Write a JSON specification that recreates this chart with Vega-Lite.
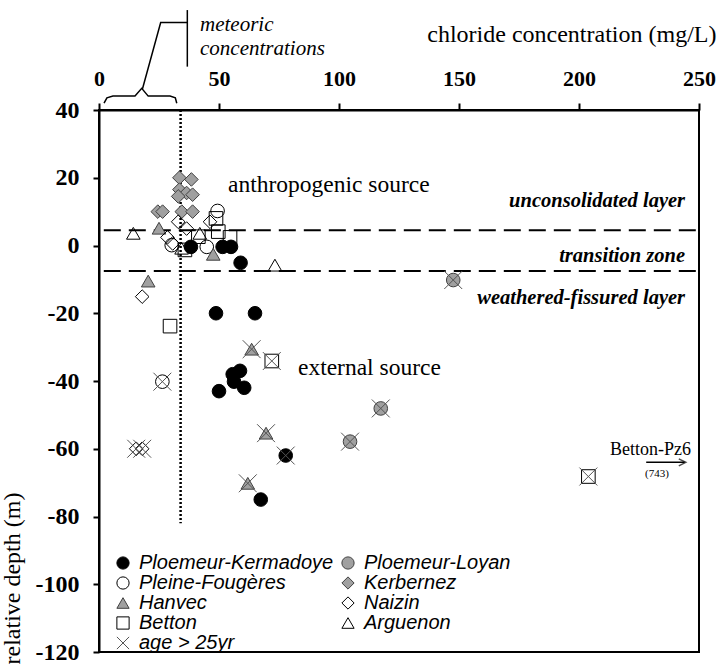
{
  "$schema": "https://vega.github.io/schema/vega-lite/v6.json",
  "width": 600,
  "height": 542,
  "autosize": {"type": "none"},
  "padding": {"left": 99, "top": 110, "right": 21, "bottom": 16},
  "background": "white",
  "config": {
    "view": {"stroke": "black", "strokeWidth": 2},
    "axis": {
      "grid": false, "domainColor": "black", "domainWidth": 2, "tickColor": "black", "tickWidth": 2,
      "labelFont": "Liberation Serif", "labelFontWeight": "bold", "labelColor": "black", "labelFontSize": 21,
      "titleFont": "Liberation Serif", "titleFontWeight": "normal", "titleColor": "black", "titleFontSize": 24,
      "labelOverlap": false, "labelFlush": false
    },
    "legend": {
      "columns": 2, "columnPadding": 4, "rowPadding": -8, "symbolSize": 150, "symbolStrokeWidth": 1,
      "labelFont": "Liberation Sans", "labelFontSize": 20, "labelFontStyle": "italic", "labelColor": "black",
      "labelOffset": 6, "labelLimit": 400
    }
  },
  "datasets": {
    "pts": [
      {"site": "Ploemeur-Kermadoye", "cl": 38.3, "depth": -0.4, "old": null},
      {"site": "Ploemeur-Kermadoye", "cl": 51.5, "depth": -0.4, "old": null},
      {"site": "Ploemeur-Kermadoye", "cl": 55, "depth": -0.4, "old": null},
      {"site": "Ploemeur-Kermadoye", "cl": 59, "depth": -5.1, "old": null},
      {"site": "Ploemeur-Kermadoye", "cl": 48.75, "depth": -20, "old": null},
      {"site": "Ploemeur-Kermadoye", "cl": 65, "depth": -20, "old": null},
      {"site": "Ploemeur-Kermadoye", "cl": 58.75, "depth": -37, "old": null},
      {"site": "Ploemeur-Kermadoye", "cl": 55.7, "depth": -38, "old": null},
      {"site": "Ploemeur-Kermadoye", "cl": 56.25, "depth": -40.2, "old": null},
      {"site": "Ploemeur-Kermadoye", "cl": 60.5, "depth": -42, "old": null},
      {"site": "Ploemeur-Kermadoye", "cl": 50, "depth": -43, "old": null},
      {"site": "Ploemeur-Kermadoye", "cl": 77.8, "depth": -62, "old": "age > 25yr"},
      {"site": "Ploemeur-Kermadoye", "cl": 67.4, "depth": -75, "old": null},
      {"site": "Ploemeur-Loyan", "cl": 147.6, "depth": -10.2, "old": "age > 25yr"},
      {"site": "Ploemeur-Loyan", "cl": 117.4, "depth": -48.1, "old": "age > 25yr"},
      {"site": "Ploemeur-Loyan", "cl": 104.6, "depth": -57.9, "old": "age > 25yr"},
      {"site": "Pleine-Fougères", "cl": 49.4, "depth": 10.2, "old": null},
      {"site": "Pleine-Fougères", "cl": 44.9, "depth": -0.4, "old": null},
      {"site": "Pleine-Fougères", "cl": 30.3, "depth": 0.1, "old": null},
      {"site": "Pleine-Fougères", "cl": 26.4, "depth": -40.2, "old": "age > 25yr"},
      {"site": "Kerbernez", "cl": 33.5, "depth": 20, "old": null},
      {"site": "Kerbernez", "cl": 38.5, "depth": 19.5, "old": null},
      {"site": "Kerbernez", "cl": 33.5, "depth": 16.5, "old": null},
      {"site": "Kerbernez", "cl": 36.5, "depth": 15.5, "old": null},
      {"site": "Kerbernez", "cl": 39, "depth": 15, "old": null},
      {"site": "Kerbernez", "cl": 33, "depth": 14.5, "old": null},
      {"site": "Kerbernez", "cl": 24.5, "depth": 10, "old": null},
      {"site": "Kerbernez", "cl": 26.5, "depth": 10, "old": null},
      {"site": "Kerbernez", "cl": 34.5, "depth": 10, "old": null},
      {"site": "Kerbernez", "cl": 39, "depth": 10, "old": null},
      {"site": "Hanvec", "cl": 25, "depth": 5.1, "old": null},
      {"site": "Hanvec", "cl": 47.6, "depth": -2.6, "old": null},
      {"site": "Hanvec", "cl": 20.5, "depth": -10.5, "old": null},
      {"site": "Hanvec", "cl": 63.6, "depth": -30.6, "old": "age > 25yr"},
      {"site": "Hanvec", "cl": 69.6, "depth": -55.4, "old": "age > 25yr"},
      {"site": "Hanvec", "cl": 62, "depth": -70.2, "old": "age > 25yr"},
      {"site": "Naizin", "cl": 18, "depth": -15.1, "old": null},
      {"site": "Naizin", "cl": 28.5, "depth": 2.4, "old": null},
      {"site": "Naizin", "cl": 33, "depth": 7, "old": null},
      {"site": "Naizin", "cl": 36.5, "depth": 5, "old": null},
      {"site": "Naizin", "cl": 46.25, "depth": 7, "old": null},
      {"site": "Naizin", "cl": 30.7, "depth": 0.6, "old": null},
      {"site": "Naizin", "cl": 15.5, "depth": -60, "old": "age > 25yr"},
      {"site": "Naizin", "cl": 18, "depth": -60, "old": "age > 25yr"},
      {"site": "Betton", "cl": 48.75, "depth": 8, "old": null},
      {"site": "Betton", "cl": 49.7, "depth": 4.1, "old": null},
      {"site": "Betton", "cl": 54.6, "depth": 2.4, "old": null},
      {"site": "Betton", "cl": 41.4, "depth": 2.6, "old": null},
      {"site": "Betton", "cl": 35.8, "depth": -1.3, "old": null},
      {"site": "Betton", "cl": 29.6, "depth": -23.8, "old": null},
      {"site": "Betton", "cl": 72, "depth": -34.1, "old": "age > 25yr"},
      {"site": "Betton", "cl": 203.9, "depth": -68.2, "old": "age > 25yr"},
      {"site": "Arguenon", "cl": 14.3, "depth": 3.6, "old": null},
      {"site": "Arguenon", "cl": 73.3, "depth": -5.8, "old": null},
      {"site": "Arguenon", "cl": 34.4, "depth": -0.8, "old": null},
      {"site": "Arguenon", "cl": 42, "depth": 3.6, "old": null}
    ],
    "dashes": [
      {"cl": 2, "cl2": 250, "depth": 4.5},
      {"cl": 2, "cl2": 250, "depth": -7.5}
    ],
    "dotted": [
      {"cl": 34, "depth": 40, "depth2": -82}
    ],
    "ann": [
      {"grp": "brace", "ord": 1, "cl": 2.1, "depth": 42.0},
      {"grp": "brace", "ord": 2, "cl": 3.3, "depth": 43.6},
      {"grp": "brace", "ord": 3, "cl": 5.8, "depth": 44.1},
      {"grp": "brace", "ord": 4, "cl": 15.0, "depth": 44.1},
      {"grp": "brace", "ord": 5, "cl": 17.8, "depth": 46.4},
      {"grp": "brace", "ord": 6, "cl": 20.5, "depth": 44.1},
      {"grp": "brace", "ord": 7, "cl": 29.6, "depth": 44.1},
      {"grp": "brace", "ord": 8, "cl": 31.8, "depth": 43.6},
      {"grp": "brace", "ord": 9, "cl": 32.4, "depth": 42.0},
      {"grp": "pointer", "ord": 1, "cl": 18.1, "depth": 46.2},
      {"grp": "pointer", "ord": 2, "cl": 25.7, "depth": 65.8},
      {"grp": "pointer", "ord": 3, "cl": 36.8, "depth": 65.8},
      {"grp": "bar", "ord": 1, "cl": 36.8, "depth": 69.5},
      {"grp": "bar", "ord": 2, "cl": 36.8, "depth": 52.8}
    ],
    "bigtext": [
      {"cl": 53.75, "depth": 17.9, "label": "anthropogenic source"},
      {"cl": 82.9, "depth": -36.2, "label": "external source"}
    ],
    "zones": [
      {"cl": 244.2, "depth": 13.1, "label": "unconsolidated layer"},
      {"cl": 244.2, "depth": -3.1, "label": "transition zone"},
      {"cl": 244.2, "depth": -15.5, "label": "weathered-fissured layer"}
    ],
    "meteoric": [
      {"cl": 42.1, "depth": 63.4, "label": "meteoric"},
      {"cl": 42.1, "depth": 56.2, "label": "concentrations"}
    ],
    "pz6": [
      {"cl": 212.9, "depth": -60.4, "label": "Betton-Pz6"}
    ],
    "n743": [
      {"cl": 227.5, "depth": -67.5, "label": "(743)"}
    ],
    "arrow": [
      {"cl": 228, "cl2": 244, "depth": -64}
    ],
    "arrowhead": [
      {"cl": 244.5, "depth": -64}
    ]
  },
  "encoding": {
    "x": {
      "field": "cl", "type": "quantitative",
      "scale": {"domain": [0, 250], "nice": false, "zero": false},
      "axis": {
        "orient": "top", "values": [0, 50, 100, 150, 200, 250], "tickSize": 7, "labelPadding": 18,
        "labelBaseline": "alphabetic", "labelExpr": "'' + datum.value", "labelFontSize": 22,
        "title": "chloride concentration (mg/L)", "titleX": 617, "titleY": -69,
        "titleAlign": "right", "titleBaseline": "alphabetic", "titleAnchor": null
      }
    },
    "y": {
      "field": "depth", "type": "quantitative",
      "scale": {"domain": [-120, 40], "nice": false, "zero": false},
      "axis": {
        "values": [-120, -100, -80, -60, -40, -20, 0, 20, 40], "tickSize": 6, "labelPadding": 14,
        "labelExpr": "'' + datum.value", "labelFontSize": 24,
        "title": "relative depth (m)", "titleAngle": -90, "titleX": -87, "titleY": 554, "titleFontSize": 24,
        "titleAlign": "left", "titleBaseline": "middle", "titleAnchor": null
      }
    }
  },
  "layer": [
    {
      "data": {"name": "dashes"},
      "mark": {"type": "rule", "stroke": "black", "strokeWidth": 2, "strokeDash": [17, 8], "clip": false},
      "encoding": {"x2": {"field": "cl2"}}
    },
    {
      "data": {"name": "dotted"},
      "mark": {"type": "rule", "stroke": "black", "strokeWidth": 2.5, "strokeDash": [2, 2], "clip": false},
      "encoding": {"y2": {"field": "depth2"}}
    },
    {
      "data": {"name": "ann"},
      "mark": {"type": "line", "stroke": "black", "strokeWidth": 1.5, "clip": false},
      "encoding": {"detail": {"field": "grp"}, "order": {"field": "ord"}}
    },
    {
      "data": {"name": "arrow"},
      "mark": {"type": "rule", "stroke": "black", "strokeWidth": 1.5, "clip": false},
      "encoding": {"x2": {"field": "cl2"}}
    },
    {
      "data": {"name": "arrowhead"},
      "mark": {"type": "point", "shape": "M-1,-0.5L0,0L-1,0.5", "size": 196, "stroke": "black", "strokeWidth": 1.5, "fill": "transparent", "clip": false},
      "encoding": {}
    },
    {
      "data": {"name": "pts"},
      "mark": {"type": "point", "filled": true, "size": 185, "strokeWidth": 1, "opacity": 1, "clip": false},
      "encoding": {
        "shape": {
          "field": "site", "type": "nominal",
          "scale": {
            "domain": ["Ploemeur-Kermadoye", "Pleine-Fougères", "Hanvec", "Betton", "age > 25yr", "Ploemeur-Loyan", "Kerbernez", "Naizin", "Arguenon"],
            "range": ["circle", "circle", "triangle-up", "square", "M-1,-1L1,1M-1,1L1,-1", "circle", "diamond", "diamond", "triangle-up"]
          },
          "legend": {"orient": "none", "legendX": 14, "legendY": 443, "title": null, "rowPadding": -8}
        },
        "fill": {
          "field": "site", "type": "nominal",
          "scale": {
            "domain": ["Ploemeur-Kermadoye", "Pleine-Fougères", "Hanvec", "Betton", "age > 25yr", "Ploemeur-Loyan", "Kerbernez", "Naizin", "Arguenon"],
            "range": ["black", "transparent", "#a0a0a0", "transparent", "transparent", "#a0a0a0", "#a0a0a0", "transparent", "transparent"]
          },
          "legend": {"orient": "none", "legendX": 14, "legendY": 443, "title": null, "rowPadding": -8}
        },
        "stroke": {
          "field": "site", "type": "nominal",
          "scale": {
            "domain": ["Ploemeur-Kermadoye", "Pleine-Fougères", "Hanvec", "Betton", "age > 25yr", "Ploemeur-Loyan", "Kerbernez", "Naizin", "Arguenon"],
            "range": ["black", "black", "#404040", "black", "#555555", "#404040", "#404040", "black", "black"]
          },
          "legend": {"orient": "none", "legendX": 14, "legendY": 443, "title": null, "rowPadding": -8}
        }
      }
    },
    {
      "data": {"name": "pts"},
      "transform": [{"filter": "datum.old != null"}],
      "mark": {"type": "point", "filled": true, "size": 320, "strokeWidth": 1, "opacity": 1, "clip": false},
      "encoding": {
        "shape": {
          "field": "old", "type": "nominal",
          "scale": {
            "domain": ["Ploemeur-Kermadoye", "Pleine-Fougères", "Hanvec", "Betton", "age > 25yr", "Ploemeur-Loyan", "Kerbernez", "Naizin", "Arguenon"],
            "range": ["circle", "circle", "triangle-up", "square", "M-1,-1L1,1M-1,1L1,-1", "circle", "diamond", "diamond", "triangle-up"]
          },
          "legend": {"orient": "none", "legendX": 14, "legendY": 443, "title": null, "rowPadding": -8}
        },
        "fill": {
          "field": "old", "type": "nominal",
          "scale": {
            "domain": ["Ploemeur-Kermadoye", "Pleine-Fougères", "Hanvec", "Betton", "age > 25yr", "Ploemeur-Loyan", "Kerbernez", "Naizin", "Arguenon"],
            "range": ["black", "transparent", "#a0a0a0", "transparent", "transparent", "#a0a0a0", "#a0a0a0", "transparent", "transparent"]
          },
          "legend": {"orient": "none", "legendX": 14, "legendY": 443, "title": null, "rowPadding": -8}
        },
        "stroke": {
          "field": "old", "type": "nominal",
          "scale": {
            "domain": ["Ploemeur-Kermadoye", "Pleine-Fougères", "Hanvec", "Betton", "age > 25yr", "Ploemeur-Loyan", "Kerbernez", "Naizin", "Arguenon"],
            "range": ["black", "black", "#404040", "black", "#555555", "#404040", "#404040", "black", "black"]
          },
          "legend": {"orient": "none", "legendX": 14, "legendY": 443, "title": null, "rowPadding": -8}
        }
      }
    },
    {
      "data": {"name": "bigtext"},
      "mark": {"type": "text", "font": "Liberation Serif", "fontSize": 23.5, "align": "left", "baseline": "middle", "color": "black", "clip": false},
      "encoding": {"text": {"field": "label"}}
    },
    {
      "data": {"name": "zones"},
      "mark": {"type": "text", "font": "Liberation Serif", "fontSize": 20.5, "fontWeight": "bold", "fontStyle": "italic", "align": "right", "baseline": "middle", "color": "black", "clip": false},
      "encoding": {"text": {"field": "label"}}
    },
    {
      "data": {"name": "meteoric"},
      "mark": {"type": "text", "font": "Liberation Serif", "fontSize": 21, "fontStyle": "italic", "align": "left", "baseline": "alphabetic", "color": "black", "clip": false},
      "encoding": {"text": {"field": "label"}}
    },
    {
      "data": {"name": "pz6"},
      "mark": {"type": "text", "font": "Liberation Serif", "fontSize": 18, "align": "left", "baseline": "middle", "color": "black", "clip": false},
      "encoding": {"text": {"field": "label"}}
    },
    {
      "data": {"name": "n743"},
      "mark": {"type": "text", "font": "Liberation Serif", "fontSize": 11, "align": "left", "baseline": "middle", "color": "black", "clip": false},
      "encoding": {"text": {"field": "label"}}
    }
  ]
}
